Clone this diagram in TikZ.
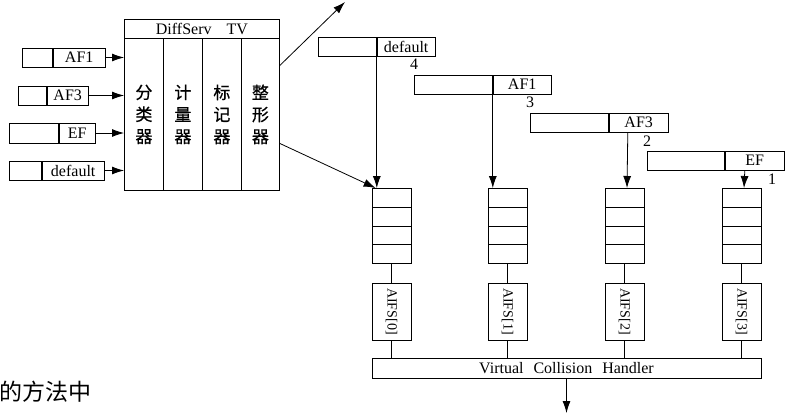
\documentclass[tikz,border=0pt]{standalone}
\usepackage{fontspec}
\setmainfont{Liberation Serif}
\newfontfamily\cjk{Noto Sans CJK SC}
\newfontfamily\cjkheavy[FakeBold=0.6]{Noto Sans CJK SC}
\usetikzlibrary{arrows.meta, calc}

\begin{document}
\begin{tikzpicture}[
    x=1pt, y=-1pt, line width=0.8pt,
    cell/.style={draw, minimum height=19pt, inner sep=0pt, anchor=west, font=\fontsize{16}{19}\selectfont},
    col/.style={draw, minimum width=39pt, minimum height=152pt, inner sep=0pt, anchor=north west, align=center, font=\cjkheavy\fontsize{17}{22}\selectfont},
    slot/.style={draw, minimum width=39pt, minimum height=18.75pt, inner sep=0pt, anchor=north},
    aifs/.style={draw, minimum width=39pt, minimum height=57pt, inner sep=0pt, font=\fontsize{14}{16}\selectfont},
    num/.style={font=\fontsize{16}{19}\selectfont, inner sep=0pt},
    arr/.style={-{Latex[length=12pt, width=8pt]}}
  ]
    \useasboundingbox (0,0) rectangle (791,415);

    % incoming packets
    \node[cell, minimum width=30pt] (af1a) at (22,57.5) {};
    \node[cell, minimum width=52pt] (af1b) at (af1a.east) {AF1};
    \node[cell, minimum width=28pt] (af3a) at (18,95.5) {};
    \node[cell, minimum width=41pt] (af3b) at (af3a.east) {AF3};
    \node[cell, minimum width=49pt, minimum height=20pt] (efa) at (9,133) {};
    \node[cell, minimum width=36pt, minimum height=20pt] (efb) at (efa.east) {EF};
    \node[cell, minimum width=32pt] (dfa) at (9,170.5) {};
    \node[cell, minimum width=62pt] (dfb) at (dfa.east) {default};

    % DiffServ TV
    \node[draw, minimum width=155pt, minimum height=19pt, inner sep=0pt, anchor=north west,
      font=\fontsize{16}{19}\selectfont] (hdr) at (124,19) {DiffServ\hspace{15pt}TV};
    \node[col] (cls) at (124,38) {分\\类\\器};
    \node[col] (mtr) at (163,38) {计\\量\\器};
    \node[col] (mrk) at (202,38) {标\\记\\器};
    \node[col, minimum width=38pt] (shp) at (241,38) {整\\形\\器};

    \draw[arr] (af1b.east) -- (af1b.east -| cls.west);
    \draw[arr] (af3b.east) -- (af3b.east -| cls.west);
    \draw[arr] (efb.east) -- (efb.east -| cls.west);
    \draw[arr] (dfb.east) -- (dfb.east -| cls.west);

    % classified packets
    \node[cell, minimum width=58pt] (dfla) at (318,46.5) {};
    \node[cell, minimum width=58pt] (dflb) at (dfla.east) {default};
    \node[cell, minimum width=78pt] (af1la) at (414,84.5) {};
    \node[cell, minimum width=58pt] (af1lb) at (af1la.east) {AF1};
    \node[cell, minimum width=78pt] (af3la) at (530,122.5) {};
    \node[cell, minimum width=59pt] (af3lb) at (af3la.east) {AF3};
    \node[cell, minimum width=77pt] (efla) at (647,160.5) {};
    \node[cell, minimum width=59pt] (eflb) at (efla.east) {EF};

    \node[num] (n4) at (414,64) {4};
    \node[num] (n3) at (530,102) {3};
    \node[num] (n2) at (647,141) {2};
    \node[num] (n1) at (772,179) {1};

    % queues
    \node[draw, minimum width=389pt, minimum height=20pt, inner sep=0pt,
      font=\fontsize{16}{19}\selectfont] (vch) at (566.5,368) {Virtual\hspace{10pt}Collision\hspace{10pt}Handler};
    \foreach \i/\x in {0/391.5, 1/507.5, 2/624.5, 3/741.5}{
      \foreach \j in {1,...,4}
        \node[slot] (q\i-\j) at (\x,{188+18.75*(\j-1)}) {};
      \node[aifs] (a\i) at (\x,311.5) {\rotatebox{-90}{AIFS[\i]}};
      \draw (q\i-4.south) -- (a\i.north);
      \draw (a\i.south) -- (a\i.south |- vch.north);
    }

    \coordinate (up) at (345,2);
    \coordinate (sink) at (566.5,413);
    \draw[arr] ($(shp.north east)!0.18!(shp.south east)$) -- (up);
    \draw[arr] ($(shp.north east)!0.69!(shp.south east)$) -- ([xshift=4pt]q0-1.north west);
    \draw[arr] (dflb.south west) -- (dflb.south west |- q0-1.north);
    \draw[arr] (af1lb.south west) -- (af1lb.south west |- q1-1.north);
    \draw[arr] ([xshift=19pt]af3lb.south west) -- ([xshift=2.5pt]q2-1.north);
    \draw[arr] ([xshift=20pt]eflb.south west) -- ([xshift=2.5pt]q3-1.north);
    \draw[arr] (vch.south) -- (sink);

    \node[anchor=west, inner sep=0pt, font=\cjk\fontsize{23}{26}\selectfont] (note) at (-1,392) {的方法中};
  \end{tikzpicture}
\end{document}
